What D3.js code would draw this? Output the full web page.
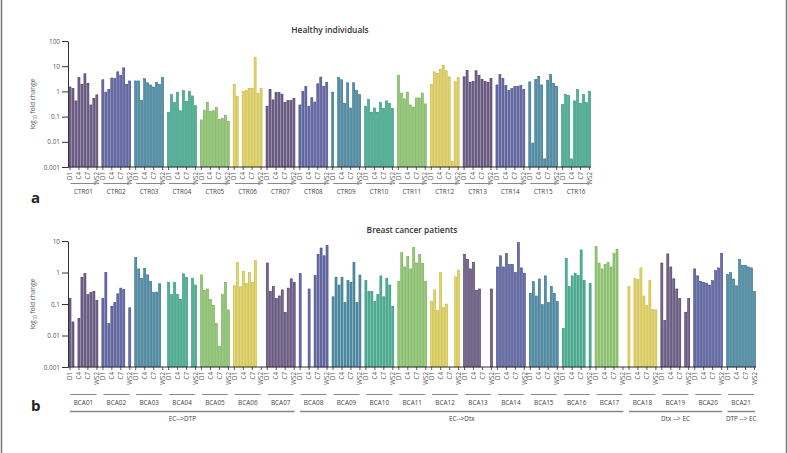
<!DOCTYPE html>
<html><head><meta charset="utf-8">
<script src="https://cdn.jsdelivr.net/npm/d3@7"></script>
<style>
body{margin:0;background:#fff}
svg{display:block}
text{font-family:"Open Sans","Noto Sans",sans-serif}
</style>
</head><body>
<svg id="chart" width="788" height="453"></svg>
<script>
// ---------------- data ----------------
const timepoints = ["D1","C2","C3","C4","C5","C6","C7","C8","WS1","WS2"];
const tickLabels = ["D1","C4","C7","WS2"];

const healthyTitle = "Healthy individuals";
const healthyGroups = ["CTR01","CTR02","CTR03","CTR04","CTR05","CTR06","CTR07","CTR08",
                       "CTR09","CTR10","CTR11","CTR12","CTR13","CTR14","CTR15","CTR16"];
const healthyValues = [
  [1.5, 1.3, 0.42, 3.5, 1.9, 5.0, 2.1, 0.29, 0.53, 0.73],
  [2.9, 0.94, 1.2, 3.4, 3.2, 6.0, 4.4, 8.6, 1.9, 2.6],
  [2.6, 2.6, 0.45, 3.2, 2.2, 1.8, 1.5, 2.3, 1.9, 3.5],
  [0.15, 0.74, 0.36, 0.93, 0.17, 1.07, 0.41, 1.0, 0.66, 0.27],
  [0.074, 0.18, 0.37, 0.16, 0.17, 0.23, 0.078, 0.083, 0.11, 0.066],
  [1.9, 0.65, null, 1.0, 1.1, 1.3, 1.3, 22, 0.84, 1.3],
  [0.26, 1.2, 0.46, 0.89, 0.89, 0.78, 0.36, 0.43, 0.43, 0.53],
  [0.29, 1.0, 1.6, 0.26, 0.56, 0.38, 2.0, 3.7, 1.6, 2.3],
  [0.94, null, 3.6, 2.9, 0.34, 2.2, 0.22, 2.2, 1.1, 0.74],
  [0.26, 0.48, 0.15, 0.22, 0.15, 0.36, 0.21, 0.42, 0.33, 0.21],
  [4.3, 0.86, 0.51, 0.94, 0.29, 0.24, 0.55, 0.55, 0.86, 0.32],
  [1.9, 6.0, 5.1, 7.4, 11, 6.6, 3.8, 0.0017, 2.4, 3.5],
  [3.8, 6.9, 2.3, 2.5, 6.6, 4.4, 3.0, 2.5, 2.3, 3.2],
  [1.8, 4.6, 3.2, 1.7, 1.1, 1.3, 1.6, 1.6, 1.7, 1.2],
  [2.4, 0.0089, 3.0, 4.0, 1.8, 0.0021, 2.8, 4.7, 2.1, 1.6],
  [0.30, 0.76, 0.69, 0.0021, 0.42, 1.2, 0.34, 0.76, 0.36, 1.0]
];
const healthyTicks = [0.001, 0.01, 0.1, 1, 10, 100];
const healthyTickLabels = ["0.001","0.01","0.1","1","10","100"];

const cancerTitle = "Breast cancer patients";
const cancerGroups = ["BCA01","BCA02","BCA03","BCA04","BCA05","BCA06","BCA07","BCA08","BCA09","BCA10",
                      "BCA11","BCA12","BCA13","BCA14","BCA15","BCA16","BCA17","BCA18","BCA19","BCA20","BCA21"];
const cancerValues = [
  [0.15, 0.027, null, 0.035, 0.70, 0.93, 0.20, 0.23, 0.25, 0.13],
  [0.15, 1.0, 0.024, 0.085, 0.11, 0.21, 0.32, 0.29, null, 0.076],
  [3.0, 1.3, 0.65, 1.35, 0.84, 0.53, 0.23, 0.24, 0.44, null],
  [0.49, 0.20, 0.49, 0.20, 0.14, 0.91, 0.71, null, 0.66, 0.40],
  [0.84, 0.27, 0.30, 0.14, 0.091, 0.024, 0.0046, 0.20, 0.49, 0.065],
  [0.38, 2.1, 0.35, 1.1, 0.45, 0.99, 0.48, 2.4, null, null],
  [2.0, 0.25, 0.36, 0.15, 0.18, 0.28, 0.054, 0.32, 0.63, 0.49],
  [0.93, null, null, 0.30, null, 0.81, 3.8, 6.0, 3.4, 7.3],
  [0.17, 0.71, 0.40, 0.71, 0.11, 0.56, 0.49, 2.1, 0.11, 0.83],
  [0.56, 0.25, 0.25, 0.12, 0.20, 0.78, 0.17, 0.66, 0.40, 0.085],
  [0.53, 4.3, 1.5, 3.2, 1.3, 6.2, 2.0, 3.7, 1.9, 0.52],
  [0.12, 0.28, 0.063, 1.0, 0.077, 0.10, null, null, 0.73, 1.2],
  [3.8, 2.6, 1.3, 2.1, 0.27, 0.30, null, null, null, 0.30],
  [1.5, 3.4, 1.5, 4.0, 1.8, 1.8, 1.0, 8.9, 1.4, 0.95],
  [0.22, 0.51, 0.18, 0.62, 0.095, 0.78, 0.11, 0.36, 0.22, 0.12],
  [0.017, 2.8, 0.36, 0.78, 0.95, 0.80, 5.2, 0.56, null, 0.45],
  [6.6, 2.0, 1.3, 1.8, 2.1, 1.5, 4.1, 5.5, null, null],
  [0.36, null, 0.65, 0.60, 1.4, 0.18, 0.089, 0.55, 0.066, 0.065],
  [2.0, 0.030, 3.9, 1.5, 0.63, 0.30, 0.15, null, 0.055, 0.15],
  [1.3, 0.78, 0.52, 0.49, 0.46, 0.40, 0.55, 1.15, 1.4, 4.1],
  [0.86, 1.0, 0.62, 0.38, 2.6, 1.7, 1.7, 1.5, 1.4, 0.25]
];
const cancerTicks = [0.001, 0.01, 0.1, 1, 10];
const cancerTickLabels = ["0.001","0.01","0.1","1","10"];

const cohortLabels = ["EC-->DTP", "EC-->Dtx", "Dtx --> EC", "DTP --> EC"];
const cohortFirst  = ["BCA01", "BCA08", "BCA18", "BCA21"];
const cohortLast   = ["BCA07", "BCA17", "BCA20", "BCA21"];

const fillColors   = ["#7a6b92", "#6a6fa8", "#5592a8", "#52b196", "#98c97a", "#e3d66a"];
const strokeColors = ["#3f2c57", "#3e4386", "#2c6b87", "#259072", "#68a84a", "#c0b136"];

// ---------------- drawing ----------------
const svg = d3.select("#chart");
const FONT = '"Open Sans","Noto Sans",sans-serif';

// frame
svg.append("line").attr("x1",1.5).attr("x2",1.5).attr("y1",0).attr("y2",453)
   .attr("stroke","#777").attr("stroke-width",1.5);
svg.append("line").attr("x1",786.5).attr("x2",786.5).attr("y1",0).attr("y2",453)
   .attr("stroke","#777").attr("stroke-width",1.5);

function panel(opt) {
  const g = svg.append("g");
  const x = d3.scaleBand().domain(opt.groups).range([opt.x0, opt.x1])
              .paddingInner(1/11).paddingOuter(0);
  const inner = d3.scaleBand().domain(timepoints).range([0, x.bandwidth()])
              .paddingInner(0.32).paddingOuter(0.16);
  const y = d3.scaleLog().domain([opt.ticks[0], opt.ticks[opt.ticks.length-1]])
              .range([opt.yBase, opt.yTop]);

  opt.groups.forEach((grp, gi) => {
    const gg = g.append("g").attr("transform", `translate(${x(grp)},0)`);
    const data = timepoints.map((t, i) => ({t, v: opt.values[gi][i]})).filter(d => d.v != null);
    gg.selectAll("rect").data(data).join("rect")
      .attr("x", d => inner(d.t))
      .attr("width", inner.bandwidth())
      .attr("y", d => y(d.v))
      .attr("height", d => y(opt.ticks[0]) - y(d.v))
      .attr("fill", fillColors[gi % 6])
      .attr("stroke", strokeColors[gi % 6])
      .attr("stroke-width", 0.55);

    const ax = gg.append("g").attr("transform", `translate(0,${opt.yBase})`)
      .call(d3.axisBottom(inner).tickValues(tickLabels.map(l => timepoints.find(t => t === l)))
              .tickSize(3).tickSizeOuter(0).tickPadding(2));
    ax.select(".domain").remove();
    ax.selectAll(".tick line").attr("stroke","#333").attr("stroke-width",0.8);
    ax.selectAll("text")
      .attr("font-family", FONT).attr("font-size", 6.2).attr("fill", "#555")
      .attr("text-anchor","end")
      .attr("transform","rotate(-90)")
      .attr("x", -5).attr("y", 0).attr("dy","0.35em");

    const gx0 = 2, gx1 = x.bandwidth() - 2;
    gg.append("line").attr("x1", gx0).attr("x2", gx1)
      .attr("y1", opt.groupLineY).attr("y2", opt.groupLineY)
      .attr("stroke","#888").attr("stroke-width",1);
    gg.append("text").attr("x", (gx0+gx1)/2).attr("y", opt.groupLabelY)
      .attr("text-anchor","middle").attr("font-family",FONT).attr("font-size",6.4)
      .attr("fill","#444").text(grp);
  });

  g.append("line").attr("x1", opt.x0 - 0.5).attr("x2", opt.x1)
    .attr("y1", opt.yBase).attr("y2", opt.yBase)
    .attr("stroke","#333").attr("stroke-width",1);

  const yAx = g.append("g").attr("transform", `translate(${opt.x0 - 0.5},0)`)
    .call(d3.axisLeft(y).tickValues(opt.ticks)
            .tickFormat((d,i) => opt.tickLabels[i]).tickSize(6).tickSizeOuter(0).tickPadding(2));
  yAx.select(".domain").attr("stroke","#333");
  yAx.selectAll(".tick line").attr("stroke","#333");
  yAx.selectAll("text").attr("font-family",FONT).attr("font-size",6.4).attr("fill","#555");

  const yt = g.append("text")
    .attr("transform", `translate(35,${(opt.yBase+opt.yTop)/2}) rotate(-90)`)
    .attr("text-anchor","middle").attr("font-family",FONT).attr("font-size",6.4).attr("fill","#555");
  yt.append("tspan").text("log");
  yt.append("tspan").attr("font-size",4.6).attr("dy",1.6).text("10");
  yt.append("tspan").attr("dy",-1.6).text(" fold change");

  g.append("text").attr("x", opt.titleX).attr("y", opt.titleY)
    .attr("text-anchor","middle").attr("font-family",FONT).attr("font-size",8.4)
    .attr("font-weight",600).attr("fill","#333").text(opt.title);

  g.append("text").attr("x", 31).attr("y", opt.letterY)
    .attr("font-family",FONT).attr("font-size",15).attr("font-weight",700)
    .attr("fill","#222").text(opt.letter);

  return {x, y};
}

panel({
  groups: healthyGroups, values: healthyValues, ticks: healthyTicks, tickLabels: healthyTickLabels,
  x0: 68.5, x1: 591, yBase: 167, yTop: 41,
  groupLineY: 183.5, groupLabelY: 194, title: healthyTitle, titleX: 330, titleY: 33,
  letter: "a", letterY: 203
});

const pb = panel({
  groups: cancerGroups, values: cancerValues, ticks: cancerTicks, tickLabels: cancerTickLabels,
  x0: 68.5, x1: 756, yBase: 367, yTop: 241,
  groupLineY: 394.5, groupLabelY: 404.5, title: cancerTitle, titleX: 412, titleY: 233,
  letter: "b", letterY: 410.5
});

cohortLabels.forEach((lab, i) => {
  const xa = pb.x(cohortFirst[i]) + 1.5;
  const xb = pb.x(cohortLast[i]) + pb.x.bandwidth() - 1;
  svg.append("line").attr("x1", xa).attr("x2", xb).attr("y1", 411.5).attr("y2", 411.5)
     .attr("stroke","#888").attr("stroke-width",1.5);
  svg.append("text").attr("x", (xa+xb)/2).attr("y", 421)
     .attr("text-anchor","middle").attr("font-family",FONT).attr("font-size",6.4)
     .attr("fill","#444").text(lab);
});
</script>
</body></html>
